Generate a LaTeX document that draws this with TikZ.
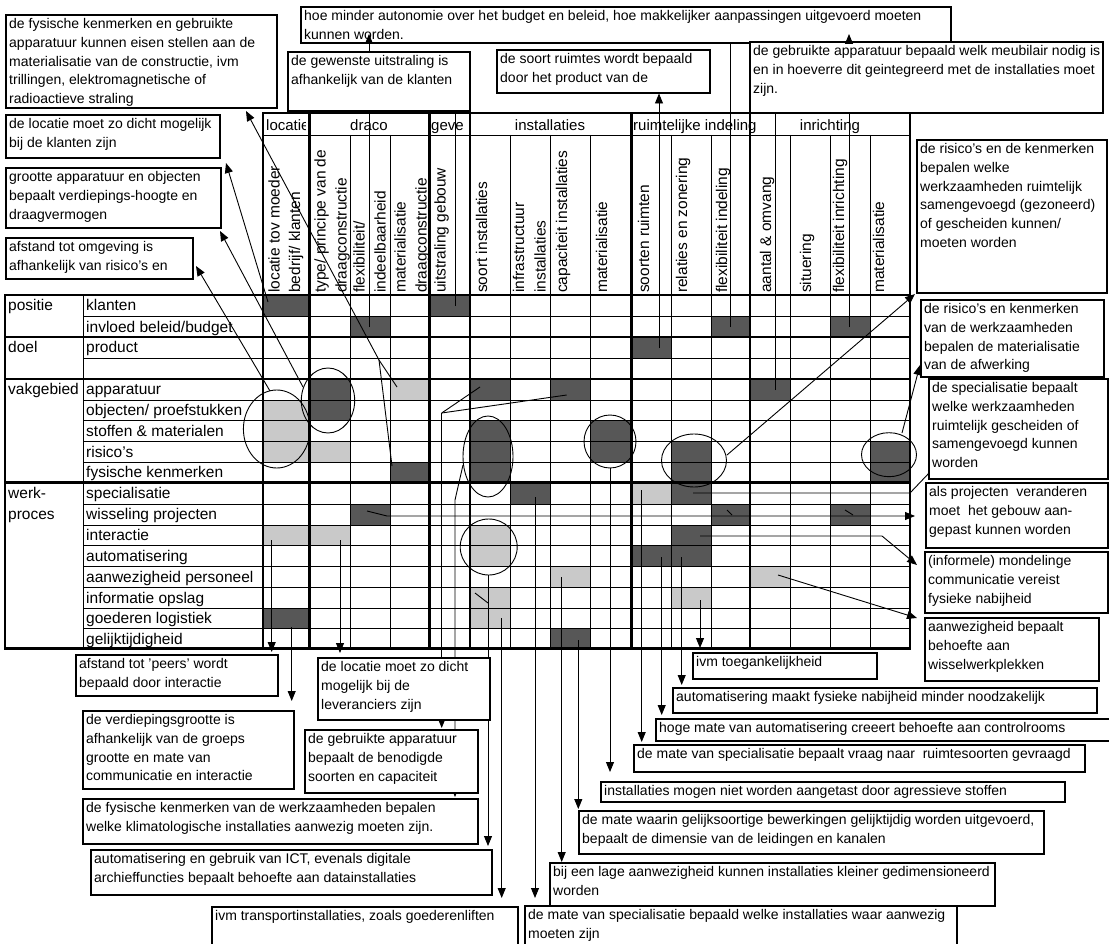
\documentclass[tikz,border=0pt]{standalone}
\usepackage{fontspec}
\setmainfont{Liberation Sans}
\usetikzlibrary{arrows.meta}
\newcommand\fbx{\fontsize{14}{18.8}\selectfont}
\newcommand\fhd{\fontsize{15.5}{18}\selectfont}
\newcommand\fgt{\fontsize{15}{18}\selectfont}
\newcommand\CBox[6]{%
  \node[cbox, anchor=north west, minimum width={(#4-#2)*1pt}, minimum height={(#5-#3)*1pt}] (#1) at (#2,#3) {};
  \node[ctext] (#1t) at (#2+3,#3+3.2) {#6};}
\newcommand\HD[3]{\node[hdr] (#1) at (#2,293) {#3};}
\newcommand\RL[3]{\node[rowlab] (#1) at (86,#2+15.5) {#3};}
\newcommand\GL[3]{\node[rowlab] (#1) at (8,#2+15.5) {#3};}
\begin{document}
\begin{tikzpicture}[x=1pt,y=-1pt,
  thinl/.style={line width=0.9pt},
  thickl/.style={line width=2.6pt, line cap=rect},
  cbox/.style={draw, line width=1.1pt, fill=white, inner sep=0pt, outer sep=0pt},
  ctext/.style={font=\fbx, align=left, inner sep=0pt, anchor=north west},
  conn/.style={line width=0.9pt},
  arr/.style={line width=0.9pt, -{Triangle[length=10pt,width=8pt]}},
  dark/.style={fill=black!66},
  light/.style={fill=black!21},
  ring/.style={line width=0.9pt},
  hdr/.style={font=\fhd, rotate=90, anchor=base west, inner sep=0pt},
  rowlab/.style={font=\fhd, anchor=base west, inner sep=0pt},
  gtitle/.style={font=\fgt, anchor=base, inner sep=0pt},
]
\useasboundingbox (0,0) rectangle (1109,944);
\fill[white] (0,0) rectangle (1109,944);

% ---------- shaded cells
\foreach \a/\b/\c/\d in {263/295/309.3/316.5, 429.5/295/470/316.5,
  350/316.5/390/337, 711.5/316.5/750/337, 830/316.5/870/337,
  631.5/337/671.5/358,
  309.3/379/350/420.7, 470/379/510/400, 550/379/590/400, 750/379/790/400,
  470/420.7/510/482.7, 590/420.7/631.5/462, 671.5/441.5/711.5/504, 870/441.5/910/482.7,
  390/462/429.5/482.7, 510/482.7/550/504,
  350/504/390/525, 711.5/504/750/525, 830/504/870/525,
  671.5/525/711.5/545.8, 631.5/545.8/711.5/566.7,
  263/608/309.3/628.5, 550/628.5/590/648.5}
  \fill[dark] (\a,\b) rectangle (\c,\d);
\foreach \a/\b/\c/\d in {390/379/429.5/400, 263/400/309.3/462, 309.3/441.5/350/462,
  631.5/482.7/671.5/504, 263/525/350/545.8, 470/525/510/566.7,
  550/566.7/590/587.5, 750/566.7/790/587.5, 470/587.5/510/628.5, 671.5/587.5/711.5/608}
  \fill[light] (\a,\b) rectangle (\c,\d);

% ---------- grid
\foreach \yy in {316.5,358,400,420.7,441.5,462,504,525,545.8,566.7,587.5,608,628.5}
  \draw[thinl] (83,\yy) -- (910,\yy);
\draw[thinl] (83,295) -- (83,648.5);
\foreach \xx in {350,390,510,550,590,671.5,711.5,790,830,870}
  \draw[thinl] (\xx,135) -- (\xx,648.5);
\draw[thinl] (263,135) -- (910,135);
\foreach \yy in {295,337,379,482.7,648.5}
  \draw[thickl] (5,\yy) -- (910,\yy);
\draw[thickl] (263,113) -- (910,113);
\foreach \xx in {263,309.3,429.5,470,631.5,750,910}
  \draw[thickl] (\xx,113) -- (\xx,648.5);
\draw[thickl] (5,295) -- (5,648.5);

% ---------- group titles
\begin{scope}
  \clip (264,114) rectangle (305.5,134);
  \node[gtitle, anchor=base west] (gt1) at (266,131) {locatie};
\end{scope}
\node[gtitle] (gt2) at (369,131) {draco};
\begin{scope}
  \clip (430,114) rectangle (462,134);
  \node[gtitle, anchor=base west] (gt3) at (431,131) {gevel};
\end{scope}
\node[gtitle] (gt4) at (550,131) {installaties};
\node[gtitle, anchor=base west] (gt5) at (633,131) {ruimtelijke indeling};
\node[gtitle] (gt6) at (830,131) {inrichting};

% ---------- column headers
\HD{h1a}{279.5}{locatie tov moeder}
\HD{h1b}{300}{bedrijf/ klanten}
\HD{h2a}{325.7}{type/ principe van de}
\HD{h2b}{346.5}{draagconstructie}
\HD{h3a}{364.5}{flexibiliteit/}
\HD{h3b}{385.5}{indeelbaarheid}
\HD{h4a}{405.6}{materialisatie}
\HD{h4b}{426.5}{draagconstructie}
\HD{h5}{445.6}{uitstraling gebouw}
\HD{h6}{487.2}{soort installaties}
\HD{h7a}{524}{infrastructuur}
\HD{h7b}{545.6}{installaties}
\HD{h8}{567.2}{capaciteit installaties}
\HD{h9}{607.2}{materialisatie}
\HD{h10}{649}{soorten ruimten}
\HD{h11}{687.2}{relaties en zonering}
\HD{h12}{727.2}{flexibiliteit indeling}
\HD{h13}{771}{aantal \& omvang}
\HD{h14}{811}{situering}
\HD{h15}{844}{flexibiliteit inrichting}
\HD{h16}{884}{materialisatie}

% ---------- row labels
\GL{g1}{295}{positie}
\GL{g2}{337}{doel}
\GL{g3}{379}{vakgebied}
\GL{g4}{482.7}{werk-}
\GL{g5}{504}{proces}
\RL{r1}{295}{klanten}
\RL{r2}{316.5}{invloed beleid/budget}
\RL{r3}{337}{product}
\RL{r5}{379}{apparatuur}
\RL{r6}{400}{objecten/ proefstukken}
\RL{r7}{420.7}{stoffen \& materialen}
\RL{r8}{441.5}{risico's}
\RL{r9}{462}{fysische kenmerken}
\RL{r10}{482.7}{specialisatie}
\RL{r11}{504}{wisseling projecten}
\RL{r12}{525}{interactie}
\RL{r13}{545.8}{automatisering}
\RL{r14}{566.7}{aanwezigheid personeel}
\RL{r15}{587.5}{informatie opslag}
\RL{r16}{608}{goederen logistiek}
\RL{r17}{628.5}{gelijktijdigheid}

% ---------- rings
\draw[ring] (276.7,429) ellipse [x radius=33.3pt, y radius=39pt];
\draw[ring] (328,400.5) ellipse [x radius=26.7pt, y radius=32.5pt];
\draw[ring] (488,456.5) ellipse [x radius=25pt, y radius=40.5pt];
\draw[ring] (610,441.5) ellipse [x radius=26pt, y radius=26.5pt];
\draw[ring] (694,460.5) ellipse [x radius=32.5pt, y radius=26.5pt];
\draw[ring] (889,454.7) ellipse [x radius=27.5pt, y radius=22pt];
\draw[ring] (488.7,547) ellipse [x radius=28.5pt, y radius=28pt];

% ---------- connectors (drawn below the boxes)
\coordinate (fk1) at (379,360);
\draw[conn] (397,387) -- (fk1);
\draw[conn] (392,466) -- (fk1);
\draw[arr] (fk1) -- (246,111);
\draw[arr] (268,302) -- (226,163);
\draw[arr] (303,387) -- (220,231);
\draw[arr] (270,391) -- (196,266);
\draw[conn] (369,327) -- (369,40);
\draw[conn] (730,327) -- (730,43);
\draw[conn] (849,327) -- (849,40);
\draw[conn] (455,306) -- (455,111);
\draw[arr] (659,348) -- (659,93.5);
\draw[conn] (775,390) -- (775,113);
\draw[arr] (727,455) -- (915,294);
\draw[arr] (902,433) -- (920,365);
\draw[conn] (693,493) -- (910,493) -- (930,472);
\draw[arr] (367,511) -- (387,516) -- (915,516);
\draw[conn] (727,510) -- (732,515);
\draw[conn] (845,510) -- (853,515);
\draw[arr] (700,536) -- (882,536) -- (917,565);
\draw[arr] (778,575) -- (917,618);
\draw[arr] (271.7,540) -- (271.7,652);
\draw[arr] (291.7,627) -- (291.7,701);
\draw[arr] (340,540) -- (340,653);
\coordinate (fk2) at (441.7,413);
\draw[conn] (480,387) -- (fk2);
\draw[conn] (566.7,395) -- (fk2);
\draw[arr] (fk2) -- (441.7,728);
\draw[arr] (463,465) -- (455,500) -- (455,797);
\draw[arr] (488,575) -- (488,846);
\draw[conn] (475,593) -- (488,603);
\draw[arr] (501.7,618) -- (501.7,898);
\draw[arr] (535,497) -- (535,898);
\draw[arr] (561.7,577) -- (561.7,862);
\draw[arr] (578.3,640) -- (578.3,809);
\draw[arr] (610,468) -- (610,772);
\draw[arr] (641.7,490) -- (641.7,742);
\draw[arr] (661.7,557) -- (661.7,715);
\draw[arr] (681.7,557) -- (681.7,685);
\draw[arr] (700,600) -- (700,648);

% ---------- callout boxes
\CBox{b1}{6}{15}{277}{108}{de fysische kenmerken en gebruikte\\apparatuur kunnen eisen stellen aan de\\materialisatie van de constructie, ivm\\trillingen, elektromagnetische of\\radioactieve straling}
\CBox{b2}{6}{115}{220}{158}{de locatie moet zo dicht mogelijk\\bij de klanten zijn}
\CBox{b3}{6}{168}{221}{228}{grootte apparatuur en objecten\\bepaalt verdiepings-hoogte en\\draagvermogen}
\CBox{b4}{6}{238}{193}{279}{afstand tot omgeving is\\afhankelijk van risico's en}
\CBox{t1}{301}{7}{951}{43}{hoe minder autonomie over het budget en beleid, hoe makkelijker aanpassingen uitgevoerd moeten\\kunnen worden.}
\CBox{t2}{288}{52}{470}{111}{de gewenste uitstraling is\\afhankelijk van de klanten}
\CBox{t3}{497}{50}{710}{93}{de soort ruimtes wordt bepaald\\door het product van de}
\CBox{t4}{750}{42}{1103}{113}{de gebruikte apparatuur bepaald welk meubilair nodig is\\en in hoeverre dit geintegreerd met de installaties moet\\zijn.}
\CBox{q1}{917}{140}{1107}{293}{de risico's en de kenmerken\\bepalen welke\\werkzaamheden ruimtelijk\\samengevoegd (gezoneerd)\\of gescheiden kunnen/\\moeten worden}
\CBox{q2}{921}{300}{1104}{377}{de risico's en kenmerken\\van de werkzaamheden\\bepalen de materialisatie\\van de afwerking}
\CBox{q3}{929}{379}{1108}{479}{de specialisatie bepaalt\\welke werkzaamheden\\ruimtelijk gescheiden of\\samengevoegd kunnen\\worden}
\CBox{q4}{926}{483}{1108}{548}{als projecten~ veranderen\\moet~ het gebouw aan-\\gepast kunnen worden}
\CBox{q5}{925}{552}{1108}{613}{(informele) mondelinge\\communicatie vereist\\fysieke nabijheid}
\CBox{q6}{925}{618}{1099}{681}{aanwezigheid bepaalt\\behoefte aan\\wisselwerkplekken}
\CBox{l1}{76}{655}{278}{696}{afstand tot 'peers' wordt\\bepaald door interactie}
\CBox{l2}{318}{658}{490}{720}{de locatie moet zo dicht\\mogelijk bij de\\leveranciers zijn}
\CBox{l3}{83}{711}{294}{789}{de verdiepingsgrootte is\\afhankelijk van de groeps\\grootte en mate van\\communicatie en interactie}
\CBox{l4}{305}{730}{478}{793}{de gebruikte apparatuur\\bepaalt de benodigde\\soorten en capaciteit}
\CBox{l5}{83}{799}{478}{844}{de fysische kenmerken van de werkzaamheden bepalen\\welke klimatologische installaties aanwezig moeten zijn.}
\CBox{l6}{91}{850}{492}{895}{automatisering en gebruik van ICT, evenals digitale\\archieffuncties bepaalt behoefte aan datainstallaties}
\CBox{l7}{212}{907}{518}{946}{ivm transportinstallaties, zoals goederenliften}
\CBox{m1}{693}{653}{877}{679}{ivm toegankelijkheid}
\CBox{m2}{673}{688}{1097}{713}{automatisering maakt fysieke nabijheid minder noodzakelijk}
\CBox{m3}{656}{719}{1112}{741}{hoge mate van automatisering creeert behoefte aan controlrooms}
\CBox{m4}{634}{745}{1085}{772}{de mate van specialisatie bepaalt vraag naar~ ruimtesoorten gevraagd}
\CBox{m5}{601}{782}{1065}{802}{installaties mogen niet worden aangetast door agressieve stoffen}
\CBox{m6}{579}{811}{1044}{854}{de mate waarin gelijksoortige bewerkingen gelijktijdig worden uitgevoerd,\\bepaalt de dimensie van de leidingen en kanalen}
\CBox{m7}{550}{863}{995}{906}{bij een lage aanwezigheid kunnen installaties kleiner gedimensioneerd\\worden}
\CBox{m8}{525}{906}{957}{946}{de mate van specialisatie bepaald welke installaties waar aanwezig\\moeten zijn}

% ---------- arrow tips that sit on top of boxes
\draw[arr] (369,52) -- (369,34);
\draw[arr] (849,42) -- (849,34);
\end{tikzpicture}
\end{document}
